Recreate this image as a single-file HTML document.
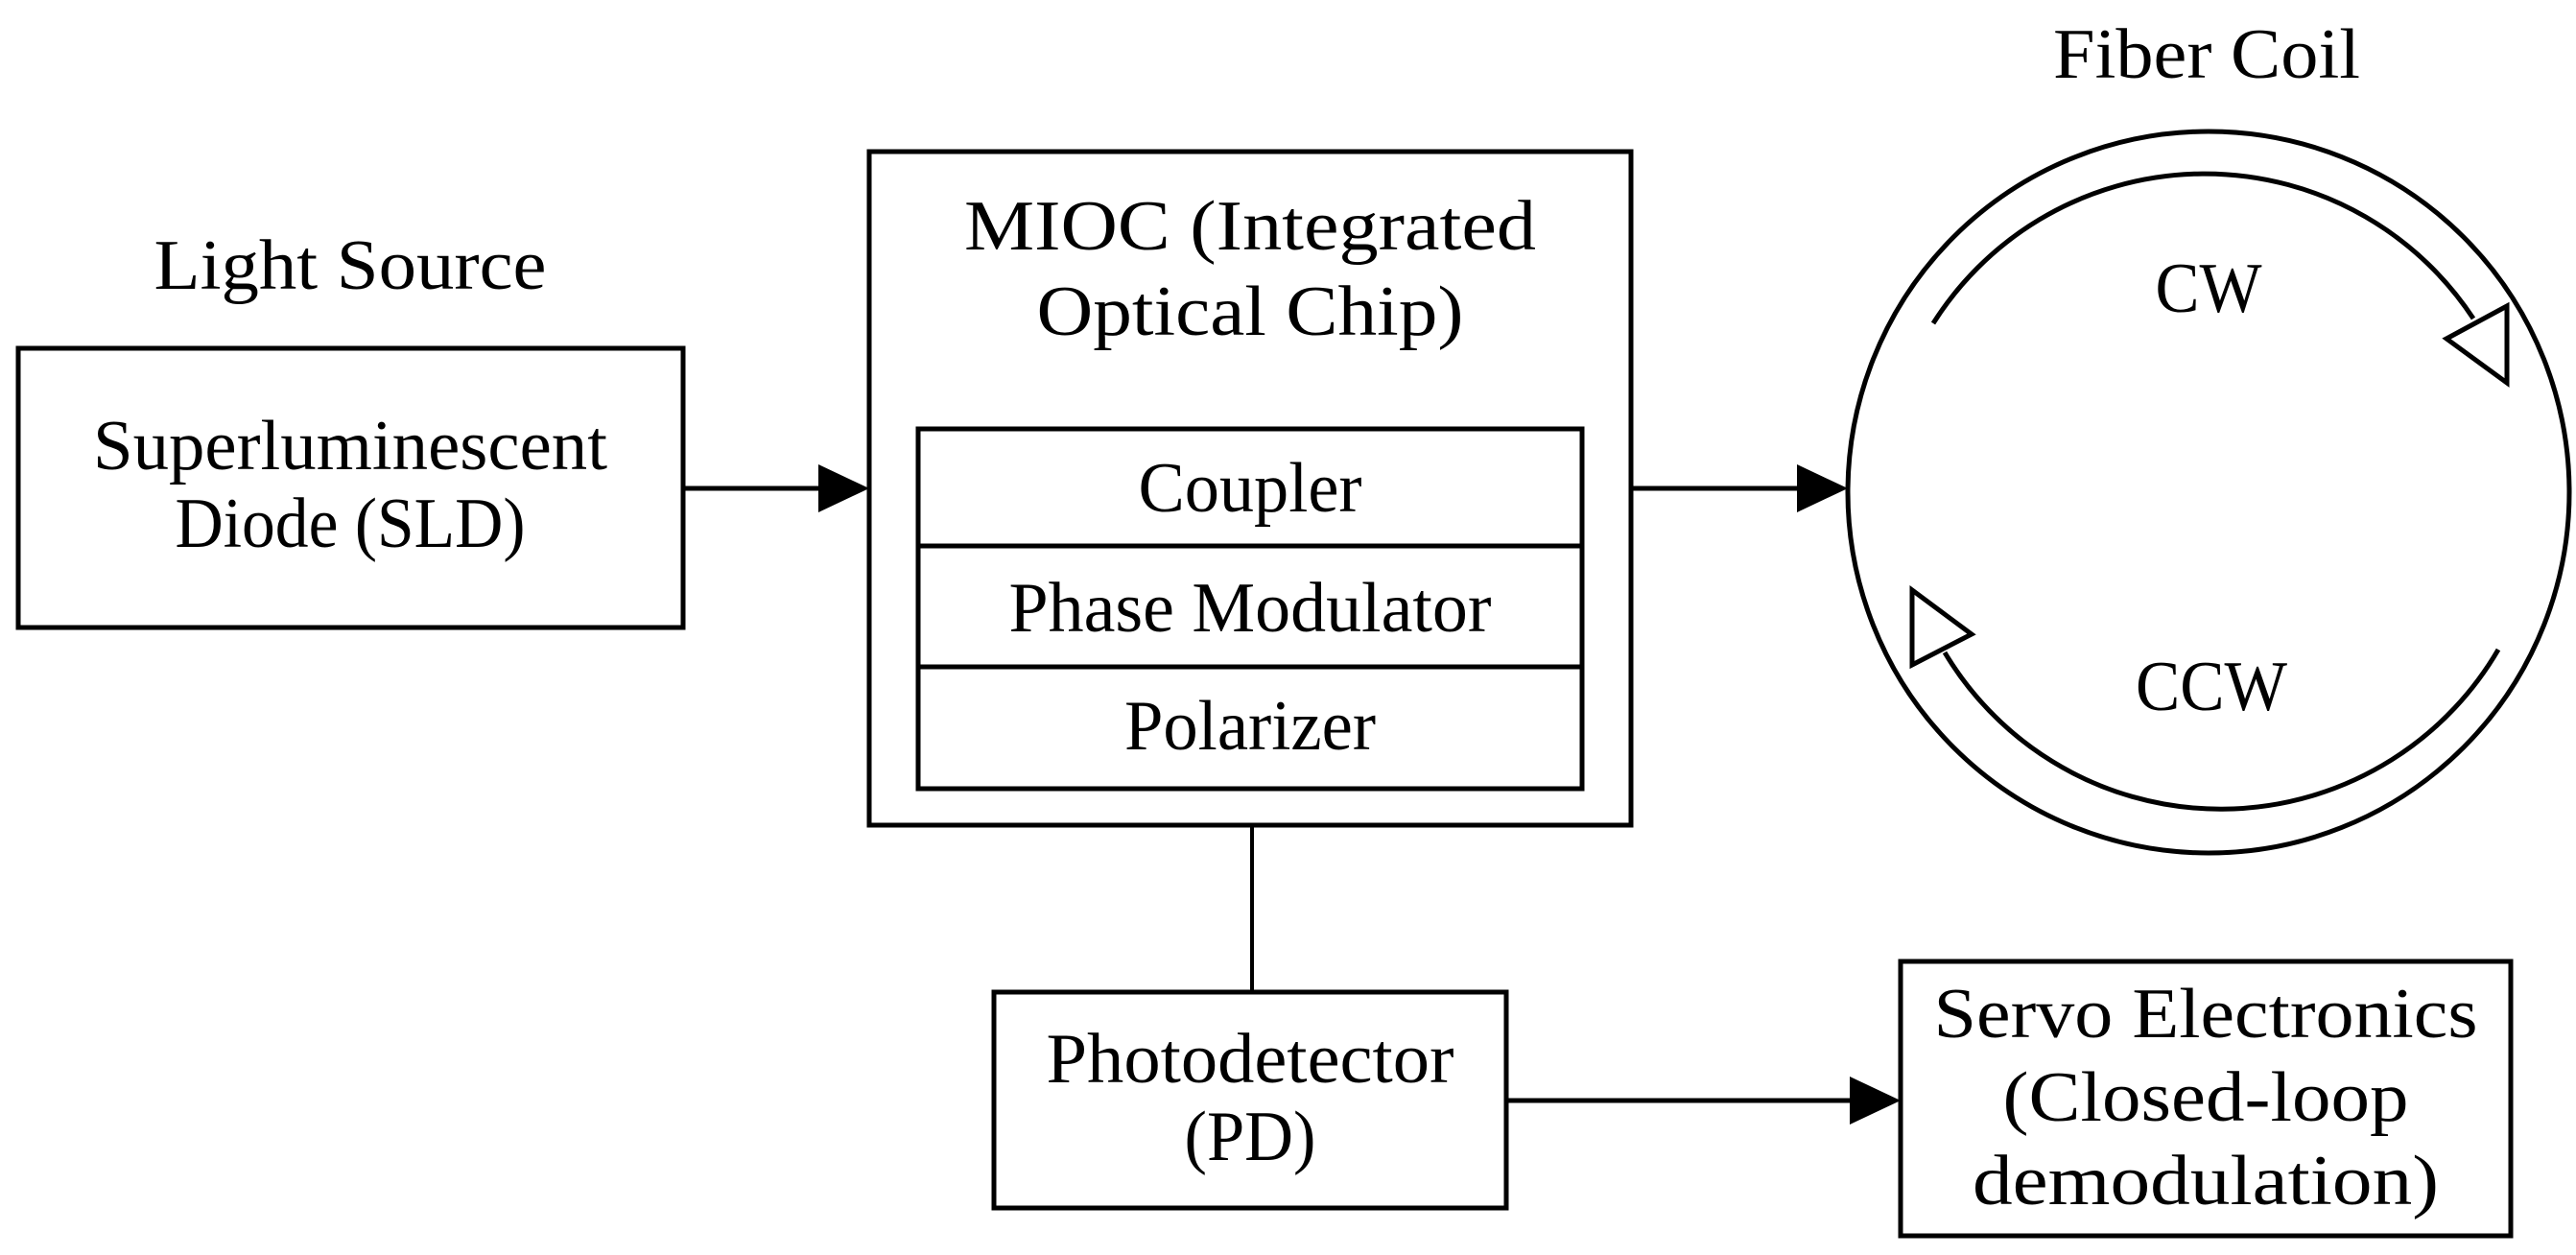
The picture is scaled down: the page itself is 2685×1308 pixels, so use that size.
<!DOCTYPE html>
<html><head><meta charset="utf-8"><style>
html,body{margin:0;padding:0;background:#fff;}
svg{display:block;}
text{font-family:"Liberation Serif",serif;font-size:74px;fill:#000;text-anchor:middle;}
</style></head><body>
<svg width="2685" height="1308" viewBox="0 0 2685 1308" xmlns="http://www.w3.org/2000/svg">
<g fill="none" stroke="#000" stroke-width="5">
<rect x="19" y="363" width="693" height="291"/>
<rect x="906" y="158" width="794" height="702"/>
<rect x="957" y="447" width="692" height="375"/>
<line x1="957" y1="569" x2="1649" y2="569"/>
<line x1="957" y1="695" x2="1649" y2="695"/>
<rect x="1036" y="1034" width="534" height="225"/>
<rect x="1981" y="1002" width="636" height="286"/>
<line x1="712" y1="509" x2="860" y2="509"/>
<line x1="1700" y1="509" x2="1880" y2="509"/>
<line x1="1570" y1="1147" x2="1935" y2="1147"/>
<line x1="1305" y1="860" x2="1305" y2="1034" stroke-width="4"/>
<circle cx="2302" cy="513" r="376"/>
<path d="M2015 337 A335 335 0 0 1 2578 332"/>
<path d="M2604 677 A335 335 0 0 1 2027 680"/>
<polygon points="2613,399 2550,353 2613,319" fill="#fff"/>
<polygon points="1993,693 1993,615 2055,661" fill="#fff"/>
</g>
<g fill="#000">
<polygon points="853,484 906,509 853,534"/>
<polygon points="1873,484 1926,509 1873,534"/>
<polygon points="1928,1122 1981,1147 1928,1172"/>
</g>
<text x="365" y="301" textLength="409" lengthAdjust="spacingAndGlyphs">Light Source</text>
<text x="365" y="489" textLength="536" lengthAdjust="spacingAndGlyphs">Superluminescent</text>
<text x="365" y="570" textLength="365" lengthAdjust="spacingAndGlyphs">Diode (SLD)</text>
<text x="1303" y="260" textLength="596" lengthAdjust="spacingAndGlyphs">MIOC (Integrated</text>
<text x="1303" y="349" textLength="445" lengthAdjust="spacingAndGlyphs">Optical Chip)</text>
<text x="1303" y="533" textLength="233" lengthAdjust="spacingAndGlyphs">Coupler</text>
<text x="1303" y="658" textLength="503" lengthAdjust="spacingAndGlyphs">Phase Modulator</text>
<text x="1303" y="781" textLength="262" lengthAdjust="spacingAndGlyphs">Polarizer</text>
<text x="1303" y="1128" textLength="425" lengthAdjust="spacingAndGlyphs">Photodetector</text>
<text x="1303" y="1209" textLength="137" lengthAdjust="spacingAndGlyphs">(PD)</text>
<text x="2299" y="1081" textLength="567" lengthAdjust="spacingAndGlyphs">Servo Electronics</text>
<text x="2299" y="1168" textLength="423" lengthAdjust="spacingAndGlyphs">(Closed-loop</text>
<text x="2299" y="1255" textLength="486" lengthAdjust="spacingAndGlyphs">demodulation)</text>
<text x="2300" y="81" textLength="320" lengthAdjust="spacingAndGlyphs">Fiber Coil</text>
<text x="2302" y="325" textLength="111" lengthAdjust="spacingAndGlyphs">CW</text>
<text x="2305" y="740" textLength="158" lengthAdjust="spacingAndGlyphs">CCW</text>
</svg>
</body></html>
